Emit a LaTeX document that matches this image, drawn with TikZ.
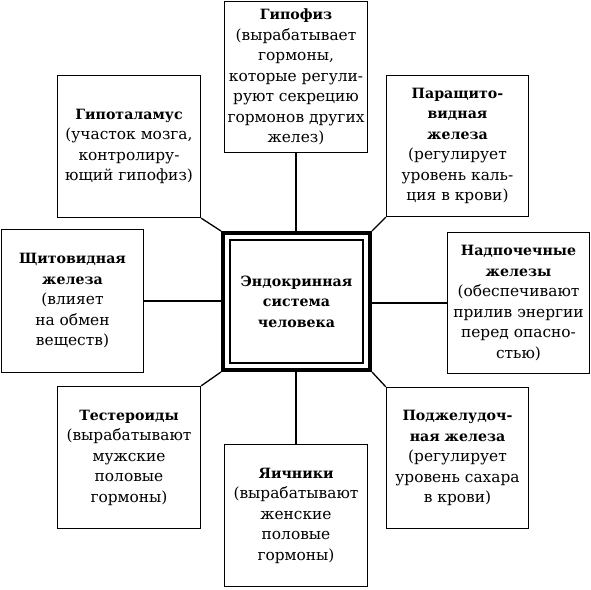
\documentclass[tikz,border=0pt]{standalone}
\usepackage{fontspec}
\setmainfont{DejaVu Serif}[BoldFeatures={Scale=0.92}]
\usetikzlibrary{calc, positioning}

\begin{document}
\begin{tikzpicture}[x=1pt, y=-1pt,
    box/.style={draw, line width=1.3pt, align=center, inner sep=0pt,
      font=\fontsize{15.4}{20.5}\selectfont},
    hub/.style={draw, line width=4pt, align=center, inner sep=0pt,
      minimum width=147pt, minimum height=137pt,
      font=\bfseries\fontsize{15.4}{20.5}\selectfont},
    link/.style={line width=1.3pt}]
  \useasboundingbox (0,0) rectangle (591,589);

  % centre
  \node[hub] (hub) at (296.5,301.5) {Эндокринная\\система\\человека};
  \draw[line width=1.3pt] ($(hub.north west)+(9,9)$) rectangle ($(hub.south east)+(-9,-9)$);

  % glands
  \node[box, minimum width=143pt, minimum height=151pt] (hypoph) at (296,77)
    {\textbf{Гипофиз}\\(вырабатывает\\гормоны,\\которые регули-\\руют секрецию\\гормонов других\\желез)};
  \node[box, minimum width=143pt, minimum height=142pt] (hypoth) at (129,146.5)
    {\textbf{Гипоталамус}\\(участок мозга,\\контролиру-\\ющий гипофиз)};
  \node[box, minimum width=142pt, minimum height=141pt] (parath) at (457.5,146)
    {\textbf{Паращито-}\\\textbf{видная}\\\textbf{железа}\\(регулирует\\уровень каль-\\ция в крови)};
  \node[box, minimum width=142pt, minimum height=143pt] (thyroid) at (72.5,301)
    {\textbf{Щитовидная}\\\textbf{железа}\\(влияет\\на обмен\\веществ)};
  \node[box, minimum width=142pt, minimum height=141pt] (adrenal) at (518.5,303)
    {\textbf{Надпочечные}\\\textbf{железы}\\(обеспечивают\\прилив энергии\\перед опасно-\\стью)};
  \node[box, minimum width=143pt, minimum height=142pt] (testes) at (129,457.5)
    {\textbf{Тестероиды}\\(вырабатывают\\мужские\\половые\\гормоны)};
  \node[box, minimum width=142pt, minimum height=141pt] (pancreas) at (457.5,458)
    {\textbf{Поджелудоч-}\\\textbf{ная железа}\\(регулирует\\уровень сахара\\в крови)};
  \node[box, minimum width=143pt, minimum height=142pt] (ovary) at (296,515.5)
    {\textbf{Яичники}\\(вырабатывают\\женские\\половые\\гормоны)};

  % links
  \draw[link] (hypoph.south) -- (hypoph.south |- hub.north);
  \draw[link] (ovary.north) -- (ovary.north |- hub.south);
  \draw[link] (thyroid.east) -- (thyroid.east -| hub.west);
  \draw[link] (adrenal.west) -- (adrenal.west -| hub.east);
  \draw[link] (hypoth.south east) -- (hub.north west);
  \draw[link] (parath.south west) -- (hub.north east);
  \draw[link] (testes.north east) -- (hub.south west);
  \draw[link] (pancreas.north west) -- (hub.south east);
\end{tikzpicture}
\end{document}
